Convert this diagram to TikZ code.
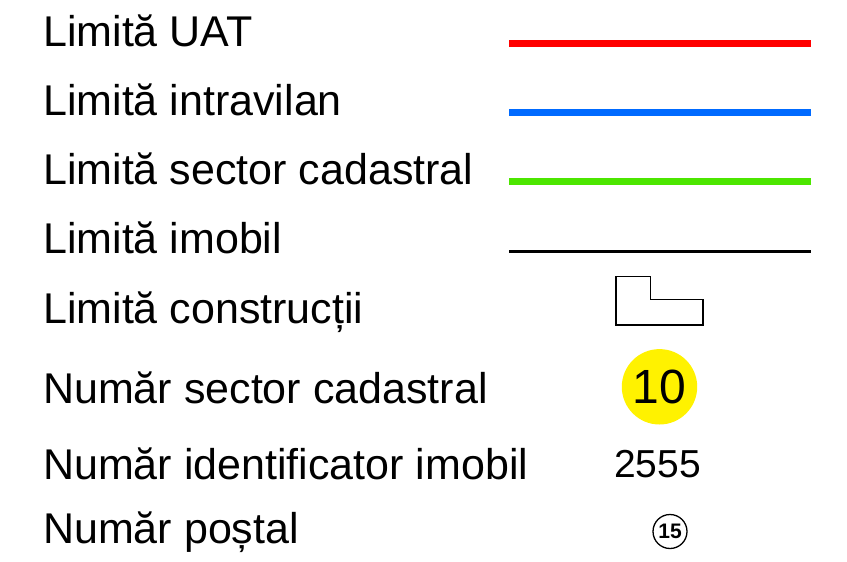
\documentclass[tikz,border=0pt]{standalone}
\usepackage{fontspec}
\setmainfont{Liberation Sans}
\usetikzlibrary{backgrounds,shapes}
\pgfdeclarelayer{edgelayer}
\pgfdeclarelayer{nodelayer}
\pgfsetlayers{edgelayer,nodelayer,main}
\definecolor{uatred}{RGB}{255,0,0}
\definecolor{intrablue}{RGB}{0,106,255}
\definecolor{sectgreen}{RGB}{76,230,0}
\tikzset{font=\fontsize{43}{50}\selectfont}
\tikzstyle{none}=[inner sep=0pt]
\tikzstyle{label}=[inner sep=0pt,anchor=base west]
\tikzstyle{sector}=[circle,fill=yellow,inner sep=0pt,minimum size=75.4pt,font=\fontsize{48}{56}\selectfont]
\tikzstyle{postal}=[circle,draw,line width=1.3pt,inner sep=0pt,minimum size=34pt,font=\fontsize{21}{24}\selectfont\bfseries]

\begin{document}
\begin{tikzpicture}[x=1pt,y=-1pt]
	\useasboundingbox (0,0) rectangle (847,562);
	\begin{pgfonlayer}{nodelayer}
		\node [style=label] (0) at (43, 46.7) {Limită UAT};
		\node [style=label] (1) at (43, 115.5) {Limită intravilan};
		\node [style=label] (2) at (43, 184.3) {Limită sector cadastral};
		\node [style=label] (3) at (43, 253) {Limită imobil};
		\node [style=label] (4) at (43, 323.3) {Limită construcții};
		\node [style=label] (5) at (43, 403.3) {Număr sector cadastral};
		\node [style=label] (6) at (43, 479.3) {Număr identificator imobil};
		\node [style=label] (7) at (43, 543.3) {Număr poștal};
		\node [style=none] (8) at (509, 43.3) {};
		\node [style=none] (9) at (811, 43.3) {};
		\node [style=none] (10) at (509, 112) {};
		\node [style=none] (11) at (811, 112) {};
		\node [style=none] (12) at (509, 181) {};
		\node [style=none] (13) at (811, 181) {};
		\node [style=none] (14) at (509, 251) {};
		\node [style=none] (15) at (811, 251) {};
		\node [style=sector] (16) at (659.5, 386.8) {10};
		\node [style=none, anchor=base] (17) at (657.5, 477.3) {\fontsize{39}{45}\selectfont 2555};
		\node [style=postal] (18) at (670, 531.5) {15};
	\end{pgfonlayer}
	\begin{pgfonlayer}{edgelayer}
		\draw[line width=7pt, uatred] (8.center) to (9.center);
		\draw[line width=7pt, intrablue] (10.center) to (11.center);
		\draw[line width=7pt, sectgreen] (12.center) to (13.center);
		\draw[line width=3pt] (14.center) to (15.center);
		\draw[line width=1.2pt] (616, 276.7) -- (650.7, 276.7) -- (650.7, 299.7) -- (703, 299.7) -- (703, 325) -- (616, 325) -- cycle;
	\end{pgfonlayer}
\end{tikzpicture}
\end{document}
